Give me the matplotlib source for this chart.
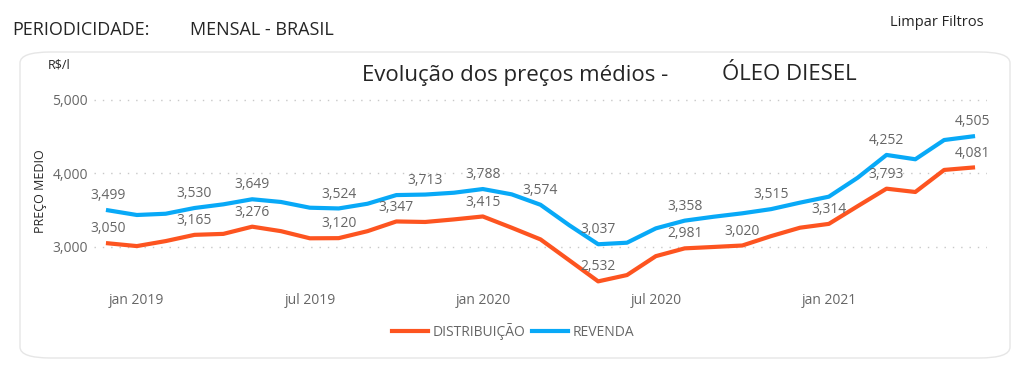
import matplotlib
matplotlib.use("Agg")
import matplotlib.pyplot as plt
from matplotlib.patches import FancyBboxPatch
from matplotlib.lines import Line2D

months = ["dez 2018", "jan 2019", "fev 2019", "mar 2019", "abr 2019", "mai 2019", "jun 2019",
          "jul 2019", "ago 2019", "set 2019", "out 2019", "nov 2019", "dez 2019",
          "jan 2020", "fev 2020", "mar 2020", "abr 2020", "mai 2020", "jun 2020",
          "jul 2020", "ago 2020", "set 2020", "out 2020", "nov 2020", "dez 2020",
          "jan 2021", "fev 2021", "mar 2021", "abr 2021", "mai 2021", "jun 2021"]

distribuicao = [3050, 3012, 3080, 3165, 3178, 3276, 3215, 3118, 3120, 3215, 3347, 3340, 3375,
                3415, 3262, 3103, 2818, 2532, 2618, 2875, 2981, 3000, 3020, 3148, 3262,
                3314, 3555, 3793, 3748, 4048, 4081]
revenda = [3499, 3435, 3452, 3530, 3580, 3649, 3612, 3534, 3524, 3588, 3706, 3713, 3738,
           3788, 3716, 3574, 3295, 3037, 3058, 3253, 3358, 3411, 3458, 3515, 3603,
           3684, 3942, 4252, 4193, 4455, 4505]

dist_labels = ["dez 2018", "mar 2019", "mai 2019", "ago 2019", "out 2019", "jan 2020",
               "mai 2020", "ago 2020", "out 2020", "jan 2021", "mar 2021", "jun 2021"]
rev_labels = ["dez 2018", "mar 2019", "mai 2019", "ago 2019", "nov 2019", "jan 2020",
              "mar 2020", "mai 2020", "ago 2020", "nov 2020", "mar 2021", "jun 2021"]

xtick_labels = ["jan 2019", "jul 2019", "jan 2020", "jul 2020", "jan 2021"]
yticks = [3000, 4000, 5000]

ORANGE = "#FD5420"
BLUE = "#08A9F7"
GREY = "#666666"
FONT = ["Open Sans", "DejaVu Sans"]
plt.rcParams["font.family"] = FONT

W, H = 1027, 365
fig = plt.figure(figsize=(W / 100, H / 100), dpi=100)
fig.patch.set_facecolor("white")

# card
card = FancyBboxPatch((20 / W, 1 - 358 / H), (990) / W, (306) / H,
                      boxstyle="round,pad=0,rounding_size=0.03",
                      transform=fig.transFigure, facecolor="white",
                      edgecolor="#E6E6E6", linewidth=1.0, zorder=-5)
fig.patches.append(card)

ax = fig.add_axes([93.6 / W, 1 - 287.4 / H, (987.4 - 93.6) / W, (287.4 - 92.6) / H])
ax.set_zorder(2)
ax.set_facecolor("none")
x = list(range(len(months)))
ax.plot(x, distribuicao, color=ORANGE, lw=3, solid_joinstyle="round", zorder=3)
ax.plot(x, revenda, color=BLUE, lw=3, solid_joinstyle="round", zorder=3)

for lab in dist_labels:
    i = months.index(lab)
    ax.annotate(f"{distribuicao[i]:,}", (i, distribuicao[i]), xytext=(0, 5),
                textcoords="offset points", ha="center", va="bottom",
                fontsize=10, color=GREY, zorder=4)
for lab in rev_labels:
    i = months.index(lab)
    ax.annotate(f"{revenda[i]:,}", (i, revenda[i]), xytext=(0, 5),
                textcoords="offset points", ha="center", va="bottom",
                fontsize=10, color=GREY, zorder=4)

ax.set_xlim(-0.5, len(months) - 0.5)
ax.set_ylim(2450, 5100)
ax.set_yticks(yticks)
ax.set_yticklabels([f"{v:,}" for v in yticks])
ax.set_xticks([months.index(m) for m in xtick_labels])
ax.set_xticklabels(xtick_labels)
ax.tick_params(axis="both", length=0, colors=GREY, labelsize=10)
ax.tick_params(axis="y", pad=4)
ax.tick_params(axis="x", pad=4)
ax.grid(axis="y", linestyle=(0, (1, 5)), color="#C8C8C8", linewidth=1)
for s in ax.spines.values():
    s.set_visible(False)

ax.set_ylabel("PREÇO MEDIO", fontsize=9, color="#252525")
ax.yaxis.set_label_coords((47 - 93.6) / (987.4 - 93.6), (287.4 - 191) / (287.4 - 92.6))
fig.text(48 / W, 1 - 65 / H, "R$/l", fontsize=9, color="#252525", va="center")

fig.text(362 / W, 1 - 75 / H, "Evolução dos preços médios -", fontsize=16,
         color="#252525", va="center")
fig.text(722 / W, 1 - 75 / H, "ÓLEO DIESEL", fontsize=16, color="#252525", va="center")

fig.text(12 / W, 1 - 30 / H, "PERIODICIDADE:", fontsize=13, color="#252525", va="center")
fig.text(190 / W, 1 - 30 / H, "MENSAL - BRASIL", fontsize=13, color="#252525", va="center")
fig.text(890 / W, 1 - 22 / H, "Limpar Filtros", fontsize=10.5, color="#252525", va="center")

handles = [Line2D([], [], color=ORANGE, lw=3), Line2D([], [], color=BLUE, lw=3)]
fig.legend(handles, ["DISTRIBUIÇÃO", "REVENDA"], loc="center",
           bbox_to_anchor=(513 / W, 1 - 331 / H), ncol=2, frameon=False,
           fontsize=10, labelcolor=GREY, handlelength=2.6, handletextpad=0.3,
           columnspacing=0.5)

fig.savefig("out.png", dpi=100, facecolor="white")
